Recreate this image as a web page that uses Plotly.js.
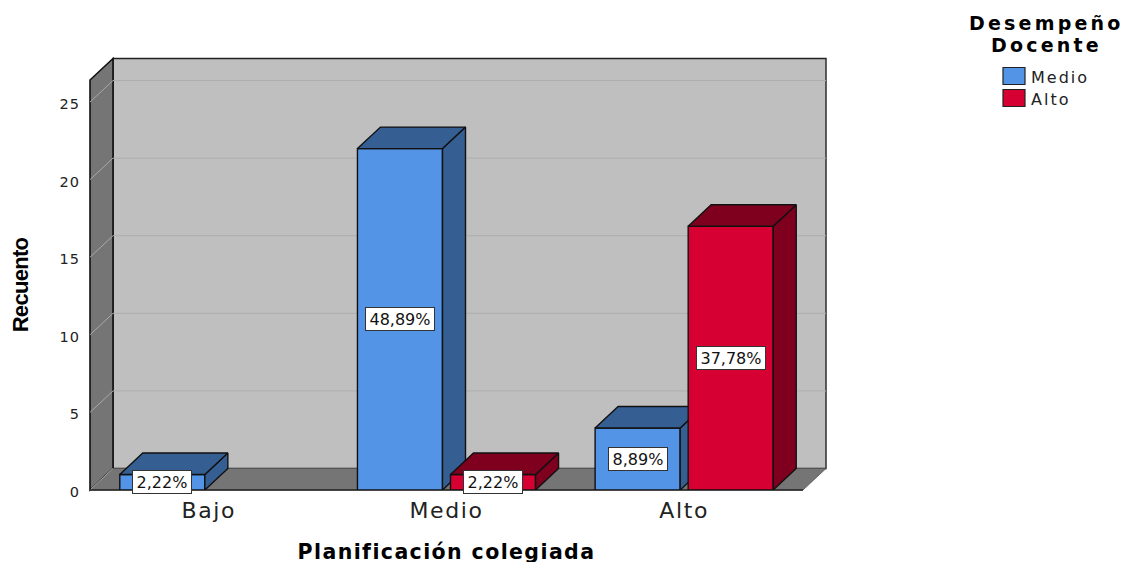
<!DOCTYPE html>
<html>
<head>
<meta charset="utf-8">
<script src="https://cdn.plot.ly/plotly-3.0.1.min.js"></script>
<style>
html,body{margin:0;padding:0;background:#fff;}
#chart{width:1128px;height:562px;}
.xtick text{letter-spacing:1.6px;}
.ytick text{letter-spacing:1px;}
.g-xtitle{transform:translateY(-3px) !important;}
.xtitle{letter-spacing:1.4px;}
.ytitle{letter-spacing:-0.7px;}
</style>
</head>
<body>
<div id="chart"></div>
<script>
var categories = ["Bajo", "Medio", "Alto"];
var medioCounts = [1, 22, 4];
var altoCounts = [null, 1, 17];
var medioPct = ["2,22%", "48,89%", "8,89%"];
var altoPct = [null, "2,22%", "37,78%"];
var yTicks = [0, 5, 10, 15, 20, 25];
var legendNames = ["Medio", "Alto"];
var legendTitle = ["Desempeño", "Docente"];

var yMax = 26.42, xMin = -0.5, xMax = 2.5;
var depthX = 0.0968, depthY = 1.385;
var barGap = 0.217, groupGap = 0.086;
var slot = (1 - barGap) / 2, barW = slot * (1 - groupGap);
var dxP = depthX / (xMax - xMin), dyP = depthY / yMax;

var series = [
  {name: legendNames[0], vals: medioCounts, pct: medioPct, front: "#5494E6", dark: "#355E93", z: 0},
  {name: legendNames[1], vals: altoCounts, pct: altoPct, front: "#D60032", dark: "#7E001E", z: 1}
];
var edge = "#111111";
var traces = [], annotations = [], shapes = [];

function poly(xs, ys, color, z) {
  return {type: "scatter", mode: "lines", x: xs.concat(xs[0]), y: ys.concat(ys[0]), fill: "toself",
    fillcolor: color, line: {color: edge, width: 1.4}, hoverinfo: "skip", showlegend: false, zorder: z};
}

series.forEach(function (s, j) {
  traces.push({type: "bar", name: s.name, x: [0, 1, 2], y: s.vals, zorder: s.z, showlegend: false,
    marker: {color: s.front, line: {color: edge, width: 1.4}}});
  s.vals.forEach(function (v, i) {
    if (v === null) return;
    var l = i - slot + j * slot + (slot - barW) / 2, r = l + barW;
    traces.push(poly([r, r + depthX, r + depthX, r], [0, depthY, v + depthY, v], s.dark, s.z));
    traces.push(poly([l, r, r + depthX, l + depthX], [v, v, v + depthY, v + depthY], s.dark, s.z));
    annotations.push({x: (l + r) / 2, y: v / 2, xref: "x", yref: "y", text: s.pct[i], showarrow: false,
      font: {family: "DejaVu Sans", size: 16, color: "#111"},
      bgcolor: "#ffffff", bordercolor: "#333333", borderwidth: 1,
      width: 10 * s.pct[i].length + 6, height: 20, align: "center", valign: "middle"});
  });
});

function pathShape(pts, fill, lineColor, w) {
  var d = pts.map(function (p, i) { return (i ? "L" : "M") + p[0] + "," + p[1]; }).join("") + "Z";
  return {type: "path", xref: "paper", yref: "paper", layer: "below", path: d, fillcolor: fill,
    line: {color: lineColor, width: w}};
}
var topP = 1;
shapes.push(pathShape([[dxP, dyP], [1 + dxP, dyP], [1 + dxP, topP + dyP], [dxP, topP + dyP]], "#BFBFBF", "#222222", 1.4));
shapes.push(pathShape([[0, 0], [dxP, dyP], [dxP, topP + dyP], [0, topP]], "#757575", "#111111", 1.6));
shapes.push(pathShape([[0, 0], [1, 0], [1 + dxP, dyP], [dxP, dyP]], "#757575", "#555555", 0.8));
yTicks.forEach(function (t) {
  var f = t / yMax;
  shapes.push({type: "line", xref: "paper", yref: "paper", layer: "below", x0: 0, y0: f, x1: dxP, y1: f + dyP,
    line: {color: "#A9A9A9", width: 1}});
  if (t > 0) shapes.push({type: "line", xref: "paper", yref: "paper", layer: "below", x0: dxP, y0: f + dyP, x1: 1 + dxP, y1: f + dyP,
    line: {color: "#AEAEAE", width: 1}});
});
shapes.push({type: "line", xref: "paper", yref: "paper", layer: "below", x0: 0, y0: 0, x1: 1, y1: 0, line: {color: "#222222", width: 1.4}});

/* legend block */
var W = 1128 - 90 - 325, H = 410;
function px(x) { return (x - 90) / W; }
function py(y) { return (490 - y) / H; }
legendTitle.forEach(function (t, k) {
  annotations.push({xref: "paper", yref: "paper", x: px(1046), y: py(23 + k * 22.5), xanchor: "center", yanchor: "middle", showarrow: false, align: "center", borderpad: 0,
    text: '<span style="letter-spacing:3.2px">' + t + '</span>',
    font: {family: "DejaVu Sans", size: 19, color: "#000", weight: 700}});
});
series.forEach(function (s, j) {
  var yc = 76 + j * 22;
  shapes.push({type: "rect", xref: "paper", yref: "paper", x0: px(1003), x1: px(1025), y0: py(yc + 8.5), y1: py(yc - 8.5),
    fillcolor: s.front, line: {color: "#222", width: 1.2}});
  annotations.push({xref: "paper", yref: "paper", x: px(1029), y: py(yc + 1), xanchor: "left", yanchor: "middle", showarrow: false, text: '<span style="letter-spacing:2px">' + s.name + '</span>',
    font: {family: "DejaVu Sans", size: 16, color: "#222"}});
});

var layout = {
  width: 1128, height: 562,
  margin: {l: 90, r: 325, t: 80, b: 72, pad: 0},
  paper_bgcolor: "#ffffff", plot_bgcolor: "rgba(0,0,0,0)",
  barmode: "group", bargap: barGap, bargroupgap: groupGap, showlegend: false,
  xaxis: {range: [xMin, xMax], tickvals: [0, 1, 2], ticktext: categories, showgrid: false, zeroline: false, showline: false,
    ticks: "", ticklabelstandoff: 5, tickfont: {family: "DejaVu Sans", size: 22, color: "#222"},
    title: {text: "Planificación colegiada", font: {family: "DejaVu Sans", size: 20.5, color: "#000", weight: 700}}},
  yaxis: {range: [0, yMax], tickvals: yTicks, showgrid: false, zeroline: false, showline: false, ticks: "", ticklabelstandoff: 9, ticklabelshift: 2,
    tickfont: {family: "DejaVu Sans", size: 14.5, color: "#222"},
    title: {text: "Recuento", standoff: 24, font: {family: "Liberation Sans", size: 22, color: "#000", weight: 700}}},
  shapes: shapes, annotations: annotations
};
Plotly.newPlot("chart", traces, layout, {displayModeBar: false, responsive: false});
</script>
</body>
</html>
